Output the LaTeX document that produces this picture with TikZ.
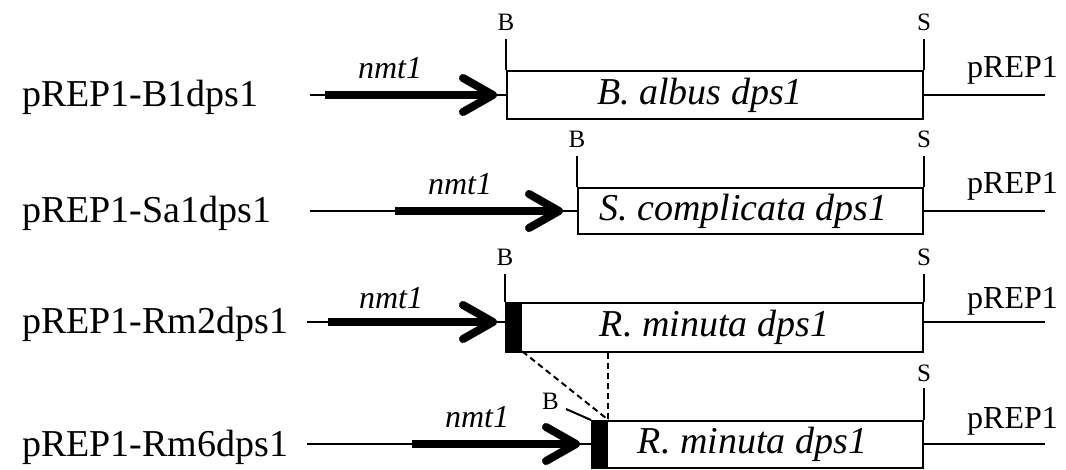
\documentclass[tikz,border=0pt]{standalone}
\usepackage{fontspec}
\setmainfont{Liberation Serif}
\usetikzlibrary{positioning,arrows.meta}
\tikzset{
    construct/.style={anchor=base west,inner sep=0pt,font=\fontsize{38}{40}\selectfont},
    gene/.style={draw,line width=2pt,inner sep=0pt,font=\fontsize{38}{40}\selectfont\itshape},
    promoter/.style={line width=8pt,-{Straight Barb[length=30pt,width=34pt,round]}},
    nmt/.style={font=\fontsize{32}{34}\selectfont\itshape,inner sep=0pt},
    vector/.style={anchor=base west,inner sep=0pt,font=\fontsize{32}{34}\selectfont},
    site/.style={font=\fontsize{25}{27}\selectfont,inner sep=1pt},
    sig/.style={fill,inner sep=0pt,minimum width=17pt,anchor=north west},
    wire/.style={line width=2pt}
}
\begin{document}
\begin{tikzpicture}[x=1pt,y=-1pt]
\useasboundingbox (0,0) rectangle (1066,469);

% pREP1-B1dps1
\node[construct] (c1) at (22,106) {pREP1-B1dps1};
\node[gene,minimum width=416pt,minimum height=48pt] (box1) at (715,95) {B. albus dps1\hspace*{30pt}};
\coordinate (s1) at (310,95);
\coordinate (p1) at (325,95);
\coordinate (t1) at (497,95);
\coordinate (e1) at (1045,95);
\draw[wire] (s1) -- (box1.west);
\draw[promoter] (p1) -- (t1);
\node[nmt] (n1) at (390,68) {nmt1};
\draw[wire] (box1.east) -- (e1);
\node[vector] (v1) at (967,77) {pREP1};
\draw[wire] (box1.north west) -- ++(0,-31) coordinate (b1);
\node[site,above=7pt of b1] {B};
\draw[wire] (box1.north east) -- ++(0,-31) coordinate (r1);
\node[site,above=7pt of r1] {S};

% pREP1-Sa1dps1
\node[construct] (c2) at (22,222) {pREP1-Sa1dps1};
\node[gene,minimum width=345pt,minimum height=46pt] (box2) at (750.5,211) {S. complicata dps1\hspace*{14pt}};
\coordinate (s2) at (310,211);
\coordinate (p2) at (395,211);
\coordinate (t2) at (563,211);
\coordinate (e2) at (1045,211);
\draw[wire] (s2) -- (box2.west);
\draw[promoter] (p2) -- (t2);
\node[nmt] (n2) at (460,184) {nmt1};
\draw[wire] (box2.east) -- (e2);
\node[vector] (v2) at (967,193) {pREP1};
\draw[wire] (box2.north west) -- ++(0,-31) coordinate (b2);
\node[site,above=7pt of b2] {B};
\draw[wire] (box2.north east) -- ++(0,-31) coordinate (r2);
\node[site,above=7pt of r2] {S};

% pREP1-Rm2dps1
\node[construct] (c3) at (22,333) {pREP1-Rm2dps1};
\node[gene,minimum width=417pt,minimum height=49pt] (box3) at (714.5,327.5) {R. minuta dps1};
\node[sig,minimum height=49pt] (sig3) at (box3.north west) {};
\coordinate (s3) at (307,322);
\coordinate (p3) at (328,322);
\coordinate (t3) at (497,322);
\coordinate (e3) at (1045,322);
\draw[wire] (s3) -- (sig3.west |- s3);
\draw[promoter] (p3) -- (t3);
\node[nmt] (n3) at (391,298) {nmt1};
\draw[wire] (box3.east |- e3) -- (e3);
\node[vector] (v3) at (967,308) {pREP1};
\draw[wire] (box3.north west) -- ++(0,-28) coordinate (b3);
\node[site,above=7pt of b3] {B};
\draw[wire] (box3.north east) -- ++(0,-28) coordinate (r3);
\node[site,above=7pt of r3] {S};

% pREP1-Rm6dps1
\node[construct] (c4) at (22,456) {pREP1-Rm6dps1};
\node[gene,minimum width=331pt,minimum height=47pt] (box4) at (757.5,444.5) {R. minuta dps1\hspace*{10pt}};
\node[sig,minimum height=47pt] (sig4) at (box4.north west) {};
\coordinate (s4) at (307,444);
\coordinate (p4) at (412,444);
\coordinate (t4) at (580,444);
\coordinate (e4) at (1045,444);
\draw[wire] (s4) -- (sig4.west |- s4);
\draw[promoter] (p4) -- (t4);
\node[nmt] (n4) at (477,417) {nmt1};
\draw[wire] (box4.east |- e4) -- (e4);
\node[vector] (v4) at (967,428) {pREP1};
\draw[wire] (box4.north west) -- ++(-25,-11) coordinate (b4);
\node[site,above left=-2pt and 6pt of b4] {B};
\draw[wire] (box4.north east) -- ++(0,-32) coordinate (r4);
\node[site,above=5pt of r4] {S};

% deletion
\draw[wire,dash pattern=on 6pt off 4pt] (sig3.south east) -- (sig4.north east);
\draw[wire,dash pattern=on 6pt off 4pt] (sig4.north east |- box3.south) -- (sig4.north east);
\end{tikzpicture}
\end{document}
